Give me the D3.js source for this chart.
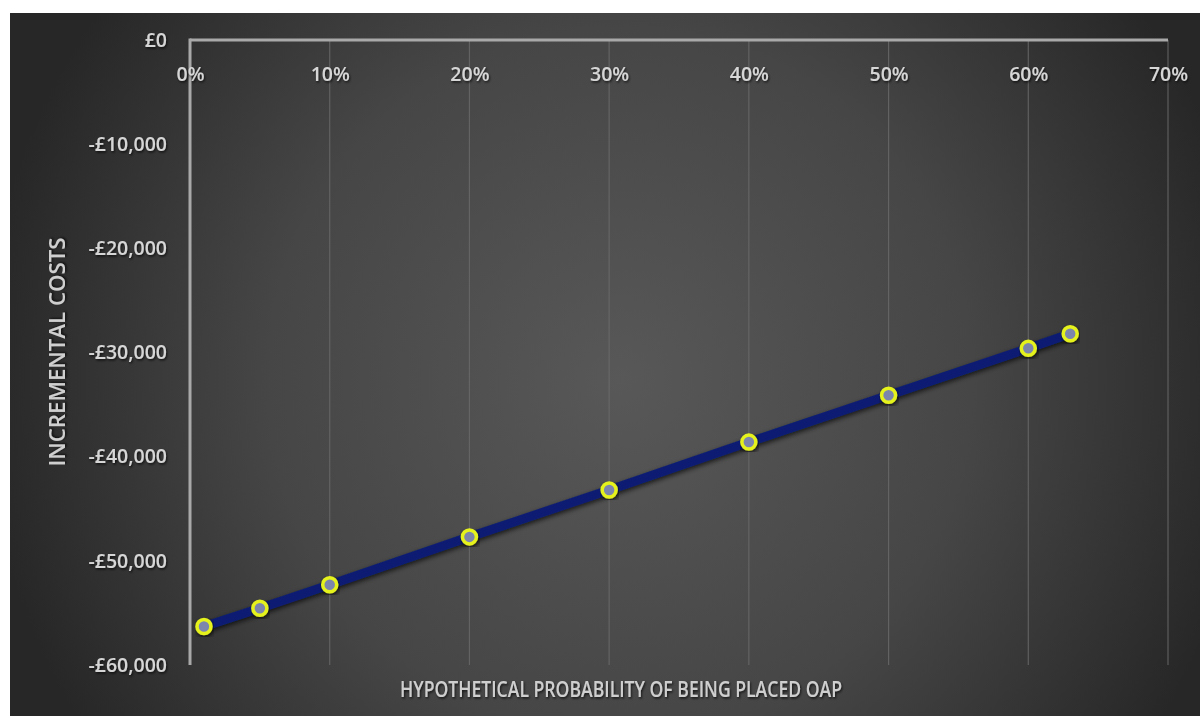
<!DOCTYPE html>
<html><head><meta charset="utf-8">
<script src="https://cdn.jsdelivr.net/npm/d3@7"></script>
<style>
html,body{margin:0;padding:0;background:#fff;}
svg{display:block;}
text{font-family:"Open Sans","Noto Sans",sans-serif;}
</style></head>
<body>
<script>
const probabilities = [0.01, 0.05, 0.10, 0.20, 0.30, 0.40, 0.50, 0.60, 0.63];
const incrementalCosts = [-56300, -54550, -52300, -47700, -43200, -38600, -34100, -29600, -28200];
const xTicks = [0, 0.1, 0.2, 0.3, 0.4, 0.5, 0.6, 0.7];
const yTicks = [0, -10000, -20000, -30000, -40000, -50000, -60000];
const xTitle = "HYPOTHETICAL PROBABILITY OF BEING PLACED OAP";
const yTitle = "INCREMENTAL COSTS";

(function(){
const W = 1200, H = 719;
const svg = d3.select("body").append("svg").attr("width", W).attr("height", H);
const defs = svg.append("defs");
const rg = defs.append("radialGradient").attr("id","bg")
  .attr("gradientUnits","userSpaceOnUse").attr("cx",620).attr("cy",380).attr("r",640);
rg.append("stop").attr("offset","0%").attr("stop-color","#585858");
rg.append("stop").attr("offset","55%").attr("stop-color","#464646");
rg.append("stop").attr("offset","100%").attr("stop-color","#272727");
const sh = defs.append("filter").attr("id","shadow").attr("x","-20%").attr("y","-20%").attr("width","140%").attr("height","140%");
sh.append("feGaussianBlur").attr("in","SourceAlpha").attr("stdDeviation",2.5).attr("result","b");
sh.append("feOffset").attr("in","b").attr("dx",1).attr("dy",2).attr("result","o");
sh.append("feComponentTransfer").attr("in","o").attr("result","o2").append("feFuncA").attr("type","linear").attr("slope",0.7);
const m = sh.append("feMerge"); m.append("feMergeNode").attr("in","o2"); m.append("feMergeNode").attr("in","SourceGraphic");
const ts = defs.append("filter").attr("id","tshadow");
ts.append("feDropShadow").attr("dx",1).attr("dy",1.5).attr("stdDeviation",1).attr("flood-color","#000").attr("flood-opacity",0.7);

svg.append("rect").attr("x",10).attr("y",13).attr("width",W-10).attr("height",703).attr("fill","url(#bg)");

const pL = 190, pR = 1168, pT = 40, pB = 665;
const x = d3.scaleLinear().domain([0, 0.7]).range([pL, pR]);
const y = d3.scaleLinear().domain([-60000, 0]).range([pB, pT]);

// gridlines
svg.append("g").selectAll("line").data(xTicks.slice(1)).join("line")
  .attr("x1", d=>x(d)).attr("x2", d=>x(d)).attr("y1", pT).attr("y2", pB)
  .attr("stroke","#6a6a6a").attr("stroke-width",1.2).attr("opacity",0.8);

// axes lines
svg.append("line").attr("x1",pL).attr("x2",pR).attr("y1",y(0)).attr("y2",y(0))
  .attr("stroke","#a9a9a9").attr("stroke-width",3);
svg.append("line").attr("x1",pL).attr("x2",pL).attr("y1",pT-1.5).attr("y2",pB)
  .attr("stroke","#a9a9a9").attr("stroke-width",3);

// tick labels via axes
const xAxis = d3.axisTop(x).tickValues(xTicks).tickFormat(d3.format(".0%")).tickSize(0).tickPadding(0);
const gx = svg.append("g").attr("transform",`translate(0,${pT+41})`).call(xAxis);
gx.select(".domain").remove();
gx.selectAll("text").attr("fill","#d6d6d6").attr("font-size",19.5).attr("font-weight",600).attr("filter","url(#tshadow)");

const fmtY = d => d === 0 ? "£0" : "-£" + d3.format(",")(Math.abs(d));
const yAxis = d3.axisLeft(y).tickValues(yTicks).tickFormat(fmtY).tickSize(0).tickPadding(23);
const gy = svg.append("g").attr("transform",`translate(${pL},0)`).call(yAxis);
gy.select(".domain").remove();
gy.selectAll("text").attr("fill","#d6d6d6").attr("font-size",19.5).attr("font-weight",600).attr("filter","url(#tshadow)");

// titles
svg.append("text").attr("x",621).attr("y",697).attr("text-anchor","middle")
  .attr("font-size",21).attr("font-weight",600).attr("fill","#cfcfcf")
  .attr("textLength",442).attr("lengthAdjust","spacingAndGlyphs").attr("filter","url(#tshadow)").text(xTitle);
svg.append("text").attr("transform","translate(65,352) rotate(-90)").attr("text-anchor","middle")
  .attr("font-size",21).attr("font-weight",600).attr("fill","#cfcfcf")
  .attr("textLength",229).attr("lengthAdjust","spacingAndGlyphs").attr("filter","url(#tshadow)").text(yTitle);

// series
const data = probabilities.map((p,i)=>({p, c: incrementalCosts[i]}));
const line = d3.line().x(d=>x(d.p)).y(d=>y(d.c));
svg.append("path").datum(data).attr("d",line).attr("fill","none")
  .attr("stroke","#0b1f72").attr("stroke-width",9).attr("stroke-linecap","round").attr("filter","url(#shadow)");
svg.append("g").selectAll("circle").data(data).join("circle")
  .attr("cx",d=>x(d.p)).attr("cy",d=>y(d.c)).attr("r",7)
  .attr("fill","#7c86ad").attr("stroke","#e6f21e").attr("stroke-width",3.5).attr("filter","url(#shadow)");
})();
</script>
</body></html>
